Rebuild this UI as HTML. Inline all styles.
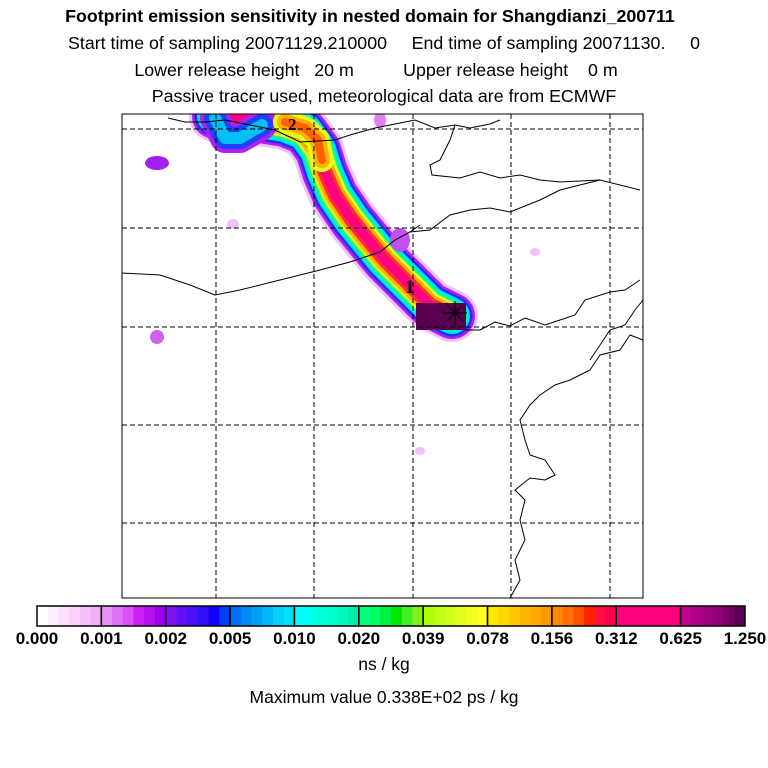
<!DOCTYPE html>
<html><head><meta charset="utf-8"><style>
body{margin:0;background:#fff;width:768px;height:768px;overflow:hidden;font-family:"Liberation Sans",sans-serif}
svg{position:absolute;left:0;top:0}
</style></head><body>
<svg width="768" height="768" viewBox="0 0 768 768">
<g font-family="Liberation Sans, sans-serif" font-size="17.8" text-anchor="middle" fill="#000">
<text x="370" y="22" font-weight="bold">Footprint emission sensitivity in nested domain for Shangdianzi_200711</text>
<text x="384" y="49" xml:space="preserve">Start time of sampling 20071129.210000     End time of sampling 20071130.     0</text>
<text x="376" y="76" xml:space="preserve">Lower release height   20 m          Upper release height    0 m</text>
<text x="384" y="102">Passive tracer used, meteorological data are from ECMWF</text>
</g>
<defs><clipPath id="mc"><rect x="122" y="114" width="521" height="484"/></clipPath></defs>
<g clip-path="url(#mc)">
<g id="plume" stroke-linecap="round" stroke-linejoin="round" fill="none"></g>
<g>
<ellipse cx="157" cy="163" rx="12" ry="7" fill="#a020f0"/>
<ellipse cx="157" cy="337" rx="7" ry="7" fill="#d060f0"/>
<ellipse cx="233" cy="224" rx="6" ry="5" fill="#f0c0f8"/>
<ellipse cx="380" cy="120" rx="6" ry="8" fill="#e080f0"/>
<ellipse cx="400" cy="240" rx="10" ry="12" fill="#c050f0"/>
<ellipse cx="535" cy="252" rx="5" ry="4" fill="#f0c0f8"/>
<ellipse cx="420" cy="451" rx="5" ry="4" fill="#f0c0f8"/>
</g>
<rect x="416" y="303" width="50" height="27" fill="#5a0050"/>
<g stroke="#000" fill="none" stroke-width="1">
<path d="M122 273 L160 275 L190 285 L215 295 L240 290 L280 280 L320 270 L350 262 L380 252 L395 240 L410 232 L420 225"/>
<path d="M168 118 L185 122 L205 122 L225 120 L250 125 L275 130 L300 142 L335 140 L350 135 L375 128 L390 125 L415 120 L435 128 L455 125 L470 128 L490 124 L500 120"/>
<path d="M455 125 L450 140 L440 160 L430 165 L432 175 L460 178 L480 172 L500 178 L520 175 L540 180 L560 182 L600 180 L640 190"/>
<path d="M410 232 L430 230 L450 215 L470 210 L490 208 L510 212 L540 200 L560 190 L600 180"/>
<path d="M466 330 L480 330 L495 322 L510 326 L525 318 L545 325 L560 320 L575 315 L585 300 L610 292 L625 290 L640 280"/>
<path d="M643 340 L630 335 L620 350 L600 355 L590 370 L570 380 L555 385 L540 395 L530 405 L520 420 L525 440 L530 455 L545 460 L555 475 L545 480 L530 478 L515 490 L525 500 L520 520 L525 540 L515 560 L520 580 L510 598"/>
<path d="M643 300 L635 310 L625 325 L610 330 L600 345 L590 360"/>
</g>
<g stroke="#000" stroke-dasharray="5,3" stroke-width="1">
<line x1="216" y1="114" x2="216" y2="598"/><line x1="314" y1="114" x2="314" y2="598"/><line x1="413" y1="114" x2="413" y2="598"/><line x1="511" y1="114" x2="511" y2="598"/><line x1="610" y1="114" x2="610" y2="598"/>
<line x1="122" y1="129" x2="643" y2="129"/><line x1="122" y1="228" x2="643" y2="228"/><line x1="122" y1="327" x2="643" y2="327"/><line x1="122" y1="425" x2="643" y2="425"/><line x1="122" y1="523" x2="643" y2="523"/>
</g>
<g stroke="#000" stroke-width="1.2">
<line x1="443" y1="313" x2="467" y2="313"/><line x1="455" y1="301" x2="455" y2="325"/><line x1="447" y1="305" x2="463" y2="321"/><line x1="447" y1="321" x2="463" y2="305"/>
</g>
<text x="405" y="293" font-family="Liberation Serif,serif" font-weight="bold" font-size="19">1</text>
<text x="288" y="130" font-family="Liberation Serif,serif" font-weight="bold" font-size="17">2</text>
</g>
<rect x="122" y="114" width="521" height="484" fill="none" stroke="#000"/>
<g id="cbar"></g>
<text x="384" y="670" font-size="17.5" text-anchor="middle">ns / kg</text>
<text x="384" y="703" font-size="17.5" text-anchor="middle">Maximum value  0.338E+02 ps / kg</text>
</svg>
<script>
const cbLabels=["0.000","0.001","0.002","0.005","0.010","0.020","0.039","0.078","0.156","0.312","0.625","1.250"];
const cbColors=[
["#ffffff","#fdf0fd","#fbe0fb","#f8d0f8","#f5c0f5","#f0b0f5"],
["#e890f5","#e070f5","#d850f5","#c820f5","#b810f0","#a000f0"],
["#8010f5","#6010f5","#4810f5","#3010f5","#1000f5","#0040f5"],
["#0070f5","#0088f5","#00a0f5","#00b8f5","#00d0f5","#00e0f5"],
["#00ffff","#00ffee","#00ffdd","#00ffcc","#00f8bb","#00f0a8"],
["#00ff80","#00ff60","#00f040","#00e800","#40f020","#80f020"],
["#b0ff00","#c0ff10","#d0ff20","#e0ff20","#f0ff20","#ffff20"],
["#ffe800","#ffd800","#ffc800","#ffb800","#ffa800","#ff9800"],
["#ff8800","#ff7000","#ff5000","#ff2000","#ff1040","#ff0050"],
["#ff0080","#ff0080","#ff0080","#ff0080","#ff0080","#ff0080"],
["#c00090","#b00088","#a00080","#900078","#780068","#5a0050"]];
const NS="http://www.w3.org/2000/svg";
const cb=document.getElementById('cbar');
const x0=37,x1=745,y0=606,h=20;
const segW=(x1-x0)/cbColors.length;
function sx(i){return x0+i*segW;}
cbColors.forEach((seg,i)=>{
  seg.forEach((c,j)=>{
    const r=document.createElementNS(NS,'rect');
    r.setAttribute('x',sx(i)+j*segW/seg.length);r.setAttribute('y',y0);
    r.setAttribute('width',segW/seg.length+0.5);r.setAttribute('height',h);r.setAttribute('fill',c);
    
    
    cb.appendChild(r);
  });
  const b=document.createElementNS(NS,'rect');
  b.setAttribute('x',sx(i));b.setAttribute('y',y0);b.setAttribute('width',segW);b.setAttribute('height',h);
  b.setAttribute('fill','none');b.setAttribute('stroke','#000');b.setAttribute('stroke-width','1.5');
  
  
  cb.appendChild(b);
});
cbLabels.forEach((l,i)=>{
  const t=document.createElementNS(NS,'text');
  t.setAttribute('x',sx(i));t.setAttribute('y',644);t.setAttribute('text-anchor','middle');
  t.setAttribute('font-size','17');t.setAttribute('font-weight','bold');t.textContent=l;
  
  
  cb.appendChild(t);
});
const pl=document.getElementById('plume');
function addPath(d,c,w,name){
  const p=document.createElementNS(NS,'path');p.setAttribute('d',d);
  p.setAttribute('stroke',c);p.setAttribute('stroke-width',w);
  
  
  pl.appendChild(p);
}
const mainPath="M452 316 L430 305 L415 290 L400 275 L385 260 L370 242 L352 220 L335 195 L325 172 L318 150 L305 132 L285 124 L260 120 L235 118 L215 116";
const layers=[["#f0c0f8",52],["#b020f0",46],["#2030f5",41],["#00e0f5",36],["#00ff90",31],["#e0ff20",26],["#ffb000",21],["#ff3030",15],["#ff0080",9]];
layers.forEach(([c,w])=>addPath(mainPath,c,w,'plume-band'));
const np="M215 118 L225 138 L240 138 L262 125";
[["#b020f0",30],["#2040f5",22],["#00c0f5",12]].forEach(([c,w])=>addPath(np,c,w,'plume-branch'));
const hp="M285 122 L305 128 L318 140 L322 160";
[["#e0ff20",24],["#ffb000",16],["#ff6000",8]].forEach(([c,w])=>addPath(hp,c,w,'plume-hotspot'));
</script>
</body></html>
